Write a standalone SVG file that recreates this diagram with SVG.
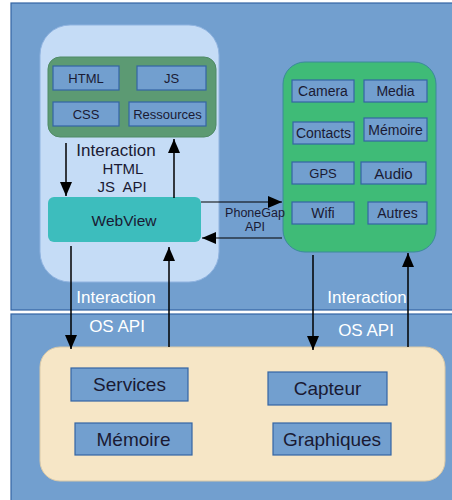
<svg xmlns="http://www.w3.org/2000/svg" width="452" height="500" viewBox="0 0 452 500">
<defs>
<marker id="ah" viewBox="0 0 14 12" refX="14" refY="6" markerWidth="14" markerHeight="12" markerUnits="userSpaceOnUse" orient="auto">
<path d="M0,0 L14,6 L0,12 z" fill="#000"/>
</marker>
</defs>
<style>
.panel{fill:#729fcf;stroke:#3465a4;stroke-width:1.2}
.box{fill:#729fcf;stroke:#3465a4;stroke-width:1.2}
.t{font-family:"Liberation Sans",Arial,sans-serif;fill:#1a1a33;text-anchor:middle;dominant-baseline:central}
.w{font-family:"Liberation Sans",Arial,sans-serif;fill:#ffffff;text-anchor:middle;dominant-baseline:central;font-size:17px}
.c{stroke:#000;stroke-width:1.5;fill:none;marker-end:url(#ah)}
.c2{stroke:#000;stroke-width:1.2;fill:none;marker-end:url(#ah)}
</style>
<rect width="452" height="500" fill="#ffffff"/>
<g id="panel-top"><rect class="panel" x="11" y="3" width="445" height="307"/></g>
<g id="panel-bottom"><rect class="panel" x="11" y="314" width="445" height="190"/></g>

<g id="webapp">
<rect x="40" y="25" width="179" height="257" rx="30" fill="#c5dcf6" stroke="#8fb3e0" stroke-width="1"/>
<text class="t" x="116" y="150" font-size="17px">Interaction</text>
<text class="t" x="123" y="168.5" font-size="15px">HTML</text>
<text class="t" x="122" y="186" font-size="15px" xml:space="preserve">JS  API</text>
</g>
<g id="resources">
<rect x="48" y="57" width="168" height="80" rx="12" fill="#5c9a73" stroke="#4f8a66" stroke-width="1"/>
<rect class="box" x="53" y="66" width="66" height="24"/><text class="t" x="86" y="78" font-size="13px">HTML</text>
<rect class="box" x="137" y="66" width="69" height="24"/><text class="t" x="171.5" y="78" font-size="13px">JS</text>
<rect class="box" x="53" y="102" width="66" height="24"/><text class="t" x="86" y="114" font-size="13px">CSS</text>
<rect class="box" x="129" y="102" width="77" height="24"/><text class="t" x="167.5" y="114" font-size="13px">Ressources</text>
</g>
<g id="webview">
<rect x="48" y="197" width="153" height="45" rx="6" fill="#3dbdbd"/>
<text class="t" x="124" y="220" font-size="15.5px">WebView</text>
</g>

<g id="device">
<rect x="283" y="62" width="153" height="190" rx="22" fill="#3fbb77" stroke="#3a8a9a" stroke-width="1"/>
<rect class="box" x="292" y="80" width="62" height="22"/><text class="t" x="323" y="91" font-size="14px">Camera</text>
<rect class="box" x="364" y="80" width="63" height="22"/><text class="t" x="395.5" y="91" font-size="14px">Media</text>
<rect class="box" x="293" y="122" width="61" height="22"/><text class="t" x="323.5" y="133" font-size="14px">Contacts</text>
<rect class="box" x="364" y="118" width="63" height="23"/><text class="t" x="395.5" y="129.5" font-size="14px">Mémoire</text>
<rect class="box" x="292" y="162" width="62" height="22"/><text class="t" x="323" y="173" font-size="13px">GPS</text>
<rect class="box" x="361" y="162" width="65" height="22"/><text class="t" x="393.5" y="173" font-size="15px">Audio</text>
<rect class="box" x="292" y="202" width="62" height="22"/><text class="t" x="323" y="213" font-size="14px">Wifi</text>
<rect class="box" x="368" y="202" width="59" height="22"/><text class="t" x="397.5" y="213" font-size="14px">Autres</text>
</g>

<g id="os">
<rect x="40" y="347" width="405" height="134" rx="20" fill="#f6e6c6" stroke="#d9c9a8" stroke-width="1"/>
<rect class="box" x="71" y="368" width="117" height="33"/><text class="t" x="129.5" y="384.5" font-size="19px">Services</text>
<rect class="box" x="75" y="423" width="117" height="32"/><text class="t" x="133.5" y="439" font-size="19px">Mémoire</text>
<rect class="box" x="268" y="372" width="119" height="33"/><text class="t" x="327.5" y="388.5" font-size="19px">Capteur</text>
<rect class="box" x="273" y="423" width="118" height="32"/><text class="t" x="332" y="439" font-size="19px">Graphiques</text>
</g>

<g id="labels">
<text class="t" x="255" y="213" font-size="12.5px">PhoneGap</text>
<text class="t" x="255" y="227" font-size="12.5px">API</text>
<text class="w" x="116" y="297">Interaction</text>
<text class="w" x="117" y="326">OS API</text>
<text class="w" x="367" y="297">Interaction</text>
<text class="w" x="366" y="330">OS API</text>
</g>

<g id="connectors">
<line class="c" x1="66" y1="143" x2="66" y2="196"/>
<line class="c" x1="174" y1="198" x2="174" y2="139"/>
<line class="c2" x1="201" y1="202" x2="282" y2="202"/>
<line class="c2" x1="282" y1="238" x2="202" y2="238"/>
<line class="c" x1="71" y1="246" x2="71" y2="349"/>
<line class="c" x1="169" y1="347" x2="169" y2="247"/>
<line class="c" x1="313" y1="255" x2="313" y2="350"/>
<line class="c" x1="408" y1="347" x2="408" y2="253"/>
</g>
</svg>
